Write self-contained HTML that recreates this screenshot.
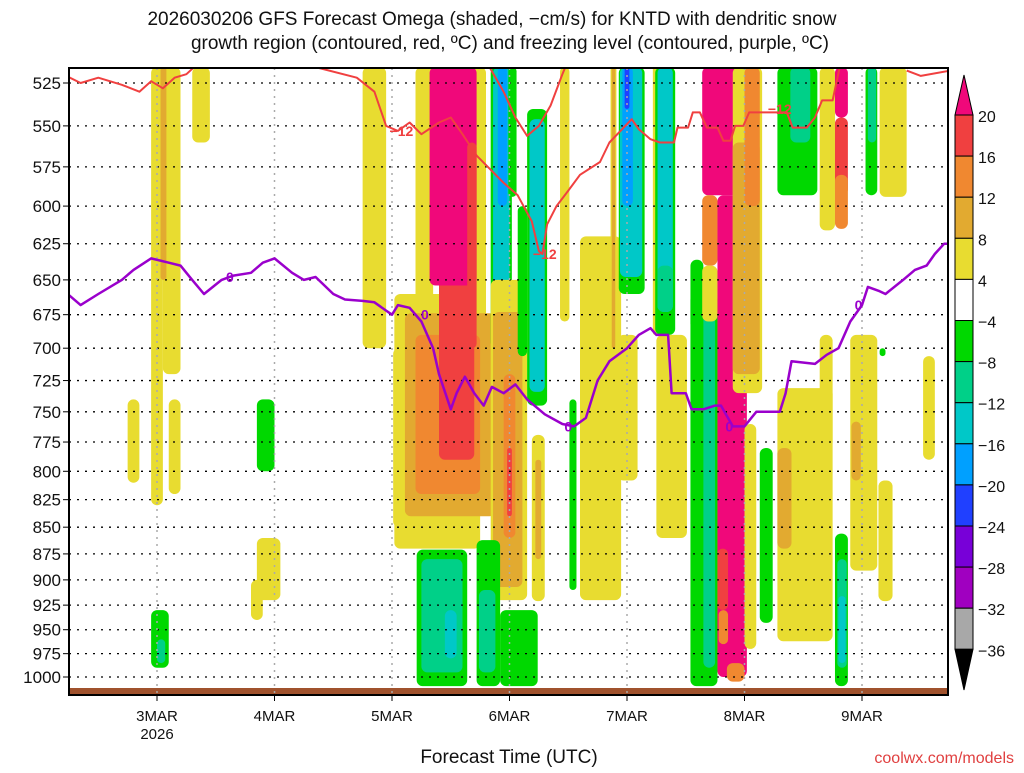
<!DOCTYPE html>
<html><head><meta charset="utf-8">
<style>
body{margin:0;background:#fff;width:1024px;height:768px;overflow:hidden;font-family:"Liberation Sans",sans-serif;}
svg text{font-family:"Liberation Sans",sans-serif;}
</style></head>
<body>
<svg id="chart" width="1024" height="768" viewBox="0 0 1024 768" xmlns="http://www.w3.org/2000/svg">
<text x="492" y="25" text-anchor="middle" font-size="19" fill="#111">2026030206 GFS Forecast Omega (shaded, −cm/s) for KNTD with dendritic snow</text>
<text x="510" y="49" text-anchor="middle" font-size="19" fill="#111">growth region (contoured, red, ºC) and freezing level (contoured, purple, ºC)</text>
<defs><clipPath id="plotclip"><rect x="69" y="68" width="879" height="627"/></clipPath></defs>
<g id="shade" clip-path="url(#plotclip)"></g>
<g id="grid"></g>
<g id="lines" clip-path="url(#plotclip)"></g>
<rect x="69" y="68" width="879" height="627" fill="none" stroke="#000" stroke-width="2"/>
<g id="axes"></g>
<g id="cbar"></g>
<text x="509" y="763" text-anchor="middle" font-size="19" fill="#111">Forecast Time (UTC)</text>
<text x="1014" y="763" text-anchor="end" font-size="16" fill="#e04040">coolwx.com/models</text>
</svg>
<script>
const pLevels=[525,550,575,600,625,650,675,700,725,750,775,800,825,850,875,900,925,950,975,1000];
const dayTicks=[3,4,5,6,7,8,9];
const dayLabels=["3MAR","4MAR","5MAR","6MAR","7MAR","8MAR","9MAR"];
const cbarLevels=["20","16","12","8","4","−4","−8","−12","−16","−20","−24","−28","−32","−36"];
const cbarColors=["#f04040","#f08830","#e2aa30","#e8dc30","#ffffff","#00d800","#00d088","#00c8c8","#00a0ff","#2040ff","#7800d8","#a000c0","#a8a8a8"];
const levelColors={"5":"#f0087a","4":"#f04040","3":"#f08830","2":"#e2aa30","1":"#e8dc30","-1":"#00d800","-2":"#00d088","-3":"#00c8c8","-4":"#00a0ff","-5":"#2040ff"};
// shaded omega regions (drawn in order): start day, end day, top pressure, bottom pressure, level
const blobT0=[2.95,3.05,3.3,2.95,3.0,3.85,3.85,3.8,2.75,3.1,3.03,
4.75,5.01,5.02,5.2,5.65,5.11,5.2,5.4,5.32,5.64,
5.84,5.86,5.9,5.99,5.84,5.86,5.95,5.98,6.07,6.15,6.17,6.19,6.22,6.43,6.51,6.6,6.92,
5.21,5.25,5.45,5.72,5.74,5.92,
6.86,6.87,6.93,6.94,6.96,6.98,7.22,7.24,7.26,7.26,7.25,7.54,7.54,7.65,
7.64,7.64,7.64,7.77,7.77,7.78,7.85,7.9,7.9,8.0,8.0,8.28,8.39,8.64,8.77,8.77,8.77,9.03,9.05,9.15,
8.28,8.28,8.13,8.64,8.9,8.91,8.77,8.79,8.8,9.14,9.52,9.15];
const blobT1=[3.05,3.2,3.45,3.1,3.07,4.0,4.05,3.9,2.85,3.2,3.08,
4.95,5.11,5.75,5.35,5.8,5.88,5.75,5.7,5.72,5.72,
6.02,6.0,5.98,6.06,6.15,6.11,6.05,6.02,6.15,6.32,6.3,6.3,6.27,6.51,6.57,6.95,7.09,
5.64,5.6,5.55,5.92,5.88,6.24,
6.91,6.9,7.15,7.13,7.05,7.02,7.26,7.41,7.39,7.39,7.51,7.65,7.77,7.75,
8.02,7.77,7.77,8.02,7.86,7.86,8.0,8.15,8.13,8.13,8.1,8.62,8.56,8.77,8.88,8.88,8.88,9.13,9.12,9.38,
8.75,8.4,8.24,8.75,9.13,8.99,8.88,8.87,8.86,9.26,9.62,9.2];
const blobPTop=[516,516,516,930,960,740,860,900,740,740,516,
516,700,660,516,516,674,690,650,516,560,
516,516,516,516,650,673,720,780,600,540,546,769,790,516,740,620,690,
871,880,930,862,910,930,
516,516,516,516,516,516,516,516,516,640,690,636,660,666,
516,593,640,593,870,930,985,516,560,516,760,516,516,516,516,545,580,516,516,516,
731,780,780,690,690,758,856,880,916,808,706,700];
const blobPBot=[830,720,560,990,985,800,920,940,810,820,650,
700,850,870,700,700,840,820,790,654,700,
700,690,600,594,920,907,860,840,706,745,734,921,880,680,910,920,808,
1010,995,980,1010,995,1010,
750,700,660,648,600,540,690,690,673,673,860,686,1010,990,
593,640,680,1000,930,965,1005,735,720,600,970,593,560,616,545,593,615,593,560,594,
962,870,943,780,891,808,1010,990,985,921,790,706];
const blobLevel=[1,1,1,-1,-2,-1,1,1,1,1,2,
1,1,1,1,1,2,3,4,5,4,
-1,-3,-4,-1,1,2,3,4,-1,-1,-3,1,2,1,-1,1,1,
-1,-2,-3,-1,-2,-1,
1,2,-1,-3,-4,-5,1,-1,-3,-2,1,-1,-1,-2,
5,3,1,5,4,3,3,1,2,3,1,-1,-2,1,5,4,3,-1,-2,1,
1,2,-1,1,1,2,-1,-2,-3,1,1,-1];
// freezing level (purple, 0C)
const frzT=[2.24,2.35,2.5,2.7,2.8,2.95,3.1,3.2,3.3,3.4,3.55,3.65,3.8,3.9,4.0,4.15,4.25,4.35,4.5,4.6,4.75,4.85,4.95,5.0,5.05,5.15,5.25,5.35,5.4,5.5,5.55,5.62,5.7,5.78,5.85,5.95,6.05,6.15,6.3,6.45,6.55,6.65,6.75,6.85,7.0,7.1,7.2,7.25,7.35,7.38,7.5,7.55,7.65,7.75,7.8,7.9,8.0,8.1,8.3,8.35,8.4,8.6,8.7,8.8,8.9,9.0,9.05,9.15,9.2,9.35,9.45,9.55,9.62,9.7,9.75];
const frzP=[660,668,660,650,643,635,638,640,650,660,650,647,645,638,635,645,650,648,660,664,665,666,672,675,668,670,680,700,720,748,735,722,735,745,730,735,728,740,752,760,762,755,725,710,700,690,685,690,690,735,735,748,748,745,745,762,762,750,750,735,710,712,705,700,680,668,655,658,660,650,643,640,632,625,625];
// -12C dendritic growth contours (red)
const dgzAT=[2.2,2.35,2.5,2.7,2.85,2.95,3.05,3.15,3.25,3.5];
const dgzAP=[520,525,522,526,530,524,528,522,520,505];
const dgzBT=[4.35,4.7,4.85,4.95,5.05,5.15,5.25,5.4,5.5,5.6,5.72,5.95,6.07,6.19,6.25,6.28,6.32,6.4,6.5,6.6,6.77,6.85,7.04,7.1,7.2,7.28,7.4,7.43,7.52,7.56,7.62,7.68,7.77,7.82,7.88,7.92,7.99,8.04,8.11,8.36,8.41,8.53,8.6,8.66,8.75,8.81];
const dgzBP=[516,522,530,550,553,548,555,548,545,555,568,585,593,610,630,632,612,600,590,580,572,560,546,552,558,560,560,551,551,542,542,551,551,559,559,550,550,542,542,542,551,551,545,535,535,516];
const dgzCT=[5.83,5.95,6.05,6.15,6.25,6.35,6.45,6.5];
const dgzCP=[516,530,545,556,550,538,520,512];
const dgzDT=[9.38,9.5,9.75];
const dgzDP=[518,521,518];

const NS="http://www.w3.org/2000/svg";
const X0=69,X1=948,Y0=68,Y1=695;
function xScale(t){return 157+(t-3)*117.5;}
function yScale(p){return 83+(Math.log(p)-Math.log(525))/(Math.log(1000)-Math.log(525))*594;}
function mk(tag,attrs,parent){const e=document.createElementNS(NS,tag);for(const k in attrs)e.setAttribute(k,attrs[k]);parent.appendChild(e);return e;}
const shadeG=document.getElementById('shade'),gridG=document.getElementById('grid'),linesG=document.getElementById('lines'),axesG=document.getElementById('axes'),cbarG=document.getElementById('cbar');

const nBlob=Math.min(blobT0.length,blobT1.length,blobPTop.length,blobPBot.length,blobLevel.length);
for(let i=0;i<nBlob;i++){
  const x=xScale(blobT0[i]),w=xScale(blobT1[i])-x,y=yScale(blobPTop[i]),h=yScale(blobPBot[i])-y;
  const r=mk('rect',{x:x,y:y,width:Math.max(w,1),height:Math.max(h,1),rx:Math.min(Math.abs(w)/2,6),fill:levelColors[String(blobLevel[i])]},shadeG);
  
  
}
const groundRect=mk('rect',{x:X0,y:688,width:X1-X0,height:7,fill:"#a0522d"},shadeG);



pLevels.forEach((p,i)=>{
  const y=yScale(p);
  const l=mk('line',{x1:X0,x2:X1,y1:y,y2:y,stroke:"#000","stroke-width":1.3,"stroke-dasharray":"2,6"},gridG);
  
  
  const t=mk('line',{x1:X0-6,x2:X0,y1:y,y2:y,stroke:"#000","stroke-width":1},axesG);
  
  
  const tx=mk('text',{x:X0-8,y:y+6,"text-anchor":"end","font-size":17,fill:"#111"},axesG);
  tx.textContent=p;
  
  
});
dayTicks.forEach((d,i)=>{
  const x=xScale(d);
  const l=mk('line',{x1:x,x2:x,y1:Y0,y2:Y1,stroke:"#aaa","stroke-width":1.5,"stroke-dasharray":"2,5"},gridG);
  
  
  const t=mk('line',{x1:x,x2:x,y1:Y1,y2:Y1+6,stroke:"#000","stroke-width":1},axesG);
  
  
  const tx=mk('text',{x:x,y:721,"text-anchor":"middle","font-size":15,fill:"#111"},axesG);
  tx.textContent=dayLabels[i];
  
  
});
const yearLabel=mk('text',{x:xScale(3),y:739,"text-anchor":"middle","font-size":15,fill:"#111"},axesG);
yearLabel.textContent="2026";



function poly(ts,ps,color,w,name){
  const n=Math.min(ts.length,ps.length);
  const pts=[];
  for(let i=0;i<n;i++)pts.push(xScale(ts[i]).toFixed(1)+","+yScale(ps[i]).toFixed(1));
  const e=mk('polyline',{points:pts.join(" "),fill:"none",stroke:color,"stroke-width":w,"stroke-linejoin":"round"},linesG);
  
  
}
poly(dgzAT,dgzAP,"#f04040",2,"dgz-contour-a");
poly(dgzBT,dgzBP,"#f04040",2,"dgz-contour-b");
poly(dgzCT,dgzCP,"#f04040",2,"dgz-contour-c");
poly(dgzDT,dgzDP,"#f04040",2,"dgz-contour-d");
poly(frzT,frzP,"#9a00cc",2.5,"freezing-level-line");
function lab(t,p,s,c,name){const e=mk('text',{x:xScale(t),y:yScale(p)+5,"font-size":14,"font-weight":"bold",fill:c,"text-anchor":"middle"},linesG);e.textContent=s;
  
  }
lab(5.08,553,"−12","#f04040","dgz-label");
lab(6.3,632,"−12","#f04040","dgz-label");
lab(8.3,540,"−12","#f04040","dgz-label");
lab(3.62,648,"0","#9a00cc","freezing-label");
lab(5.28,675,"0","#9a00cc","freezing-label");
lab(6.5,762,"0","#9a00cc","freezing-label");
lab(7.87,762,"0","#9a00cc","freezing-label");
lab(8.97,668,"0","#9a00cc","freezing-label");

const cx=955,cw=18,ct=115,step=41.1;
const maxTri=mk('polygon',{points:`${cx},${ct} ${cx+cw},${ct} ${cx+cw/2},75`,fill:"#f0087a",stroke:"#000"},cbarG);


cbarColors.forEach((c,i)=>{
  const r=mk('rect',{x:cx,y:ct+i*step,width:cw,height:step,fill:c,stroke:"#000","stroke-width":1},cbarG);
  
  
});
const cbBottom=ct+cbarColors.length*step;
const minTri=mk('polygon',{points:`${cx},${cbBottom} ${cx+cw},${cbBottom} ${cx+cw/2},690`,fill:"#000",stroke:"#000"},cbarG);


cbarLevels.forEach((s,i)=>{
  const t=mk('text',{x:978,y:ct+i*step+7,"font-size":16,fill:"#111"},cbarG);
  t.textContent=s;
  
  
});
</script>
</body></html>
